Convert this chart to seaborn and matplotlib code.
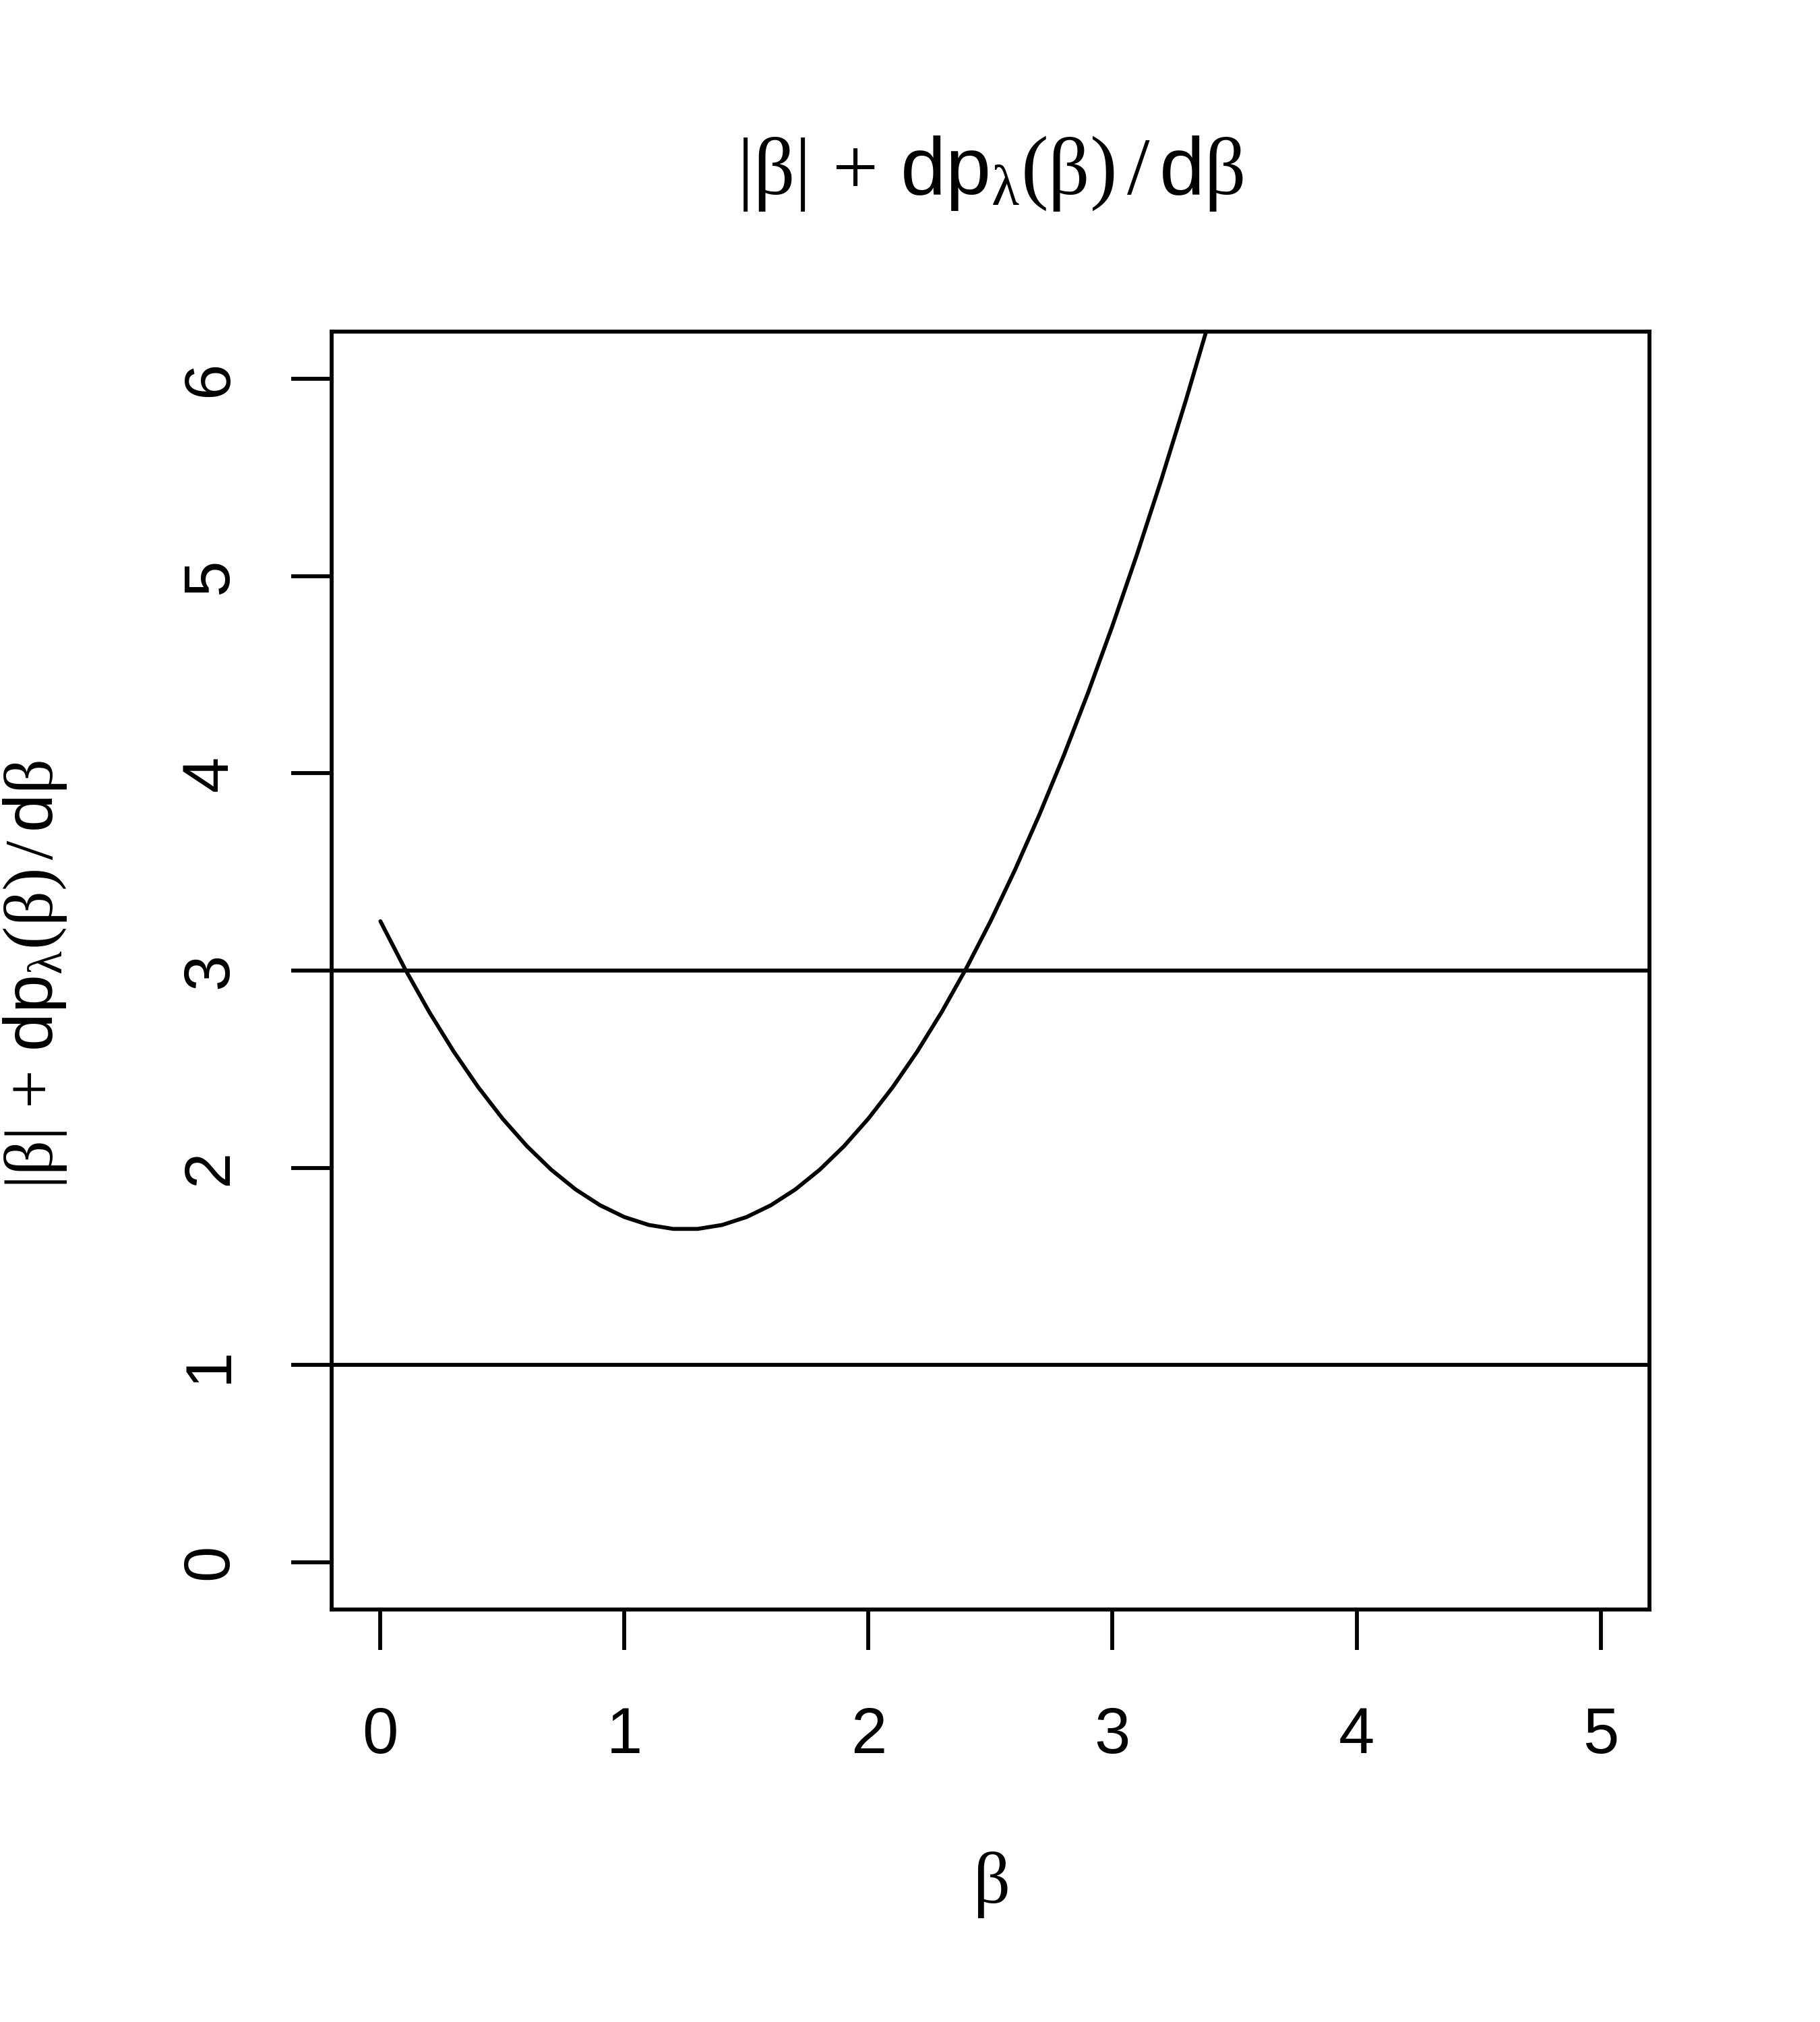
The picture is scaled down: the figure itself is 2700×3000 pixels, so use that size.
import numpy as np
import pandas as pd
import matplotlib
matplotlib.use("Agg")
import matplotlib.pyplot as plt
import seaborn as sns

# values
beta = [0.0, 0.1, 0.2, 0.3, 0.4, 0.5, 0.6, 0.7, 0.8, 0.9,
        1.0, 1.1, 1.2, 1.3, 1.4, 1.5, 1.6, 1.7, 1.8, 1.9,
        2.0, 2.1, 2.2, 2.3, 2.4, 2.5, 2.6, 2.7, 2.8, 2.9,
        3.0, 3.1, 3.2, 3.3, 3.4, 3.5]
value = [3.25, 3.01, 2.79, 2.59, 2.41, 2.25, 2.11, 1.99, 1.89, 1.81,
         1.75, 1.71, 1.69, 1.69, 1.71, 1.75, 1.81, 1.89, 1.99, 2.11,
         2.25, 2.41, 2.59, 2.79, 3.01, 3.25, 3.51, 3.79, 4.09, 4.41,
         4.75, 5.11, 5.49, 5.89, 6.31, 6.75]
hlines = [1, 3]
xticks = [0, 1, 2, 3, 4, 5]
yticks = [0, 1, 2, 3, 4, 5, 6]

df = pd.DataFrame({"beta": beta, "value": value})

sns.set_style("white")
plt.rcParams["font.family"] = ["Liberation Sans", "DejaVu Sans"]
plt.rcParams["text.color"] = "black"
plt.rcParams["xtick.color"] = "black"
plt.rcParams["ytick.color"] = "black"
plt.rcParams["mathtext.fontset"] = "custom"
plt.rcParams["mathtext.rm"] = "Liberation Serif"
plt.rcParams["mathtext.it"] = "Liberation Serif:italic"
plt.rcParams["mathtext.sf"] = "Liberation Sans"

lw = 1.4
fig = plt.figure(figsize=(9, 10), dpi=300)
ax = fig.add_axes([0.1822, 0.204, 0.9063 - 0.1822, 0.836 - 0.204])

sns.lineplot(data=df, x="beta", y="value", color="black", linewidth=lw, ax=ax)
for h in hlines:
    ax.axhline(h, color="black", linewidth=lw)

ax.set_xlim(-0.2, 5.2)
ax.set_ylim(-0.24, 6.24)
ax.set_xticks(xticks)
ax.set_yticks(yticks)
ax.set_xticklabels([str(t) for t in xticks], fontsize=23)
ax.set_yticklabels([str(t) for t in yticks], fontsize=23, rotation=90, va="center")
ax.tick_params(axis="both", direction="out", length=14.4, width=lw, color="black",
               bottom=True, left=True, labelcolor="black")
ax.tick_params(axis="x", pad=20)
ax.tick_params(axis="y", pad=18)
for s in ax.spines.values():
    s.set_color("black")
    s.set_linewidth(lw)
ax.set_xlabel("")
ax.set_ylabel("")

expr = (r"$|\mathrm{\beta}|\, + \,\mathsf{dp}_{\mathrm{\lambda}}"
        r"\left(\mathrm{\beta}\right)\,/\,\mathsf{d}\mathrm{\beta}$")
cx = 0.5 * (0.1822 + 0.9063)
fig.text(cx, 0.914, expr, fontsize=29, ha="center", va="center")
fig.text(52 / 2700, 0.518, expr, fontsize=24.5, ha="center", va="center", rotation=90)
fig.text(cx, 1 - 2797 / 3000, r"$\mathrm{\beta}$", fontsize=26,
         ha="center", va="center")

plt.savefig("out.png", dpi=300)
